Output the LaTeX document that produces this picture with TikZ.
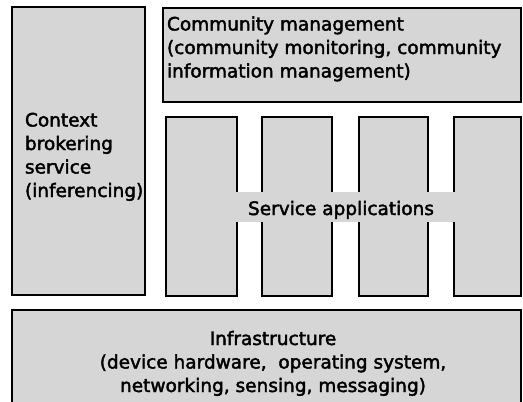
\documentclass[tikz,border=0pt]{standalone}
\usepackage{fontspec}
\setmainfont{DejaVu Sans}
\newfontfamily\labelfont{DejaVu Sans}[FakeBold=2.2]
\definecolor{panelgray}{gray}{0.84}
\begin{document}
\begin{tikzpicture}[x=1pt,y=-1pt,
  panel/.style={draw=black, line width=1.6pt, fill=panelgray,
    inner sep=0pt, outer sep=0pt, anchor=north west},
  band/.style={fill=panelgray, inner sep=0pt, outer sep=0pt, anchor=north west},
  lbl/.style={inner sep=0pt, outer sep=0pt, text=black,
    font=\labelfont\fontsize{18.5}{23.5}\selectfont}]
\clip (0,0) rectangle (523,402);
\fill[white] (0,0) rectangle (523,402);

% side panel
\node[panel, minimum width=133pt, minimum height=288pt] (ctx) at (12,7) {};
% top panel
\node[panel, minimum width=358pt, minimum height=94pt] (comm) at (163,8) {};
% application columns
\node[panel, minimum width=71pt, minimum height=179pt] (colA) at (166,117) {};
\node[panel, minimum width=70pt, minimum height=179pt] (colB) at (262,117) {};
\node[panel, minimum width=69pt, minimum height=179pt] (colC) at (359,117) {};
\node[panel, minimum width=67pt, minimum height=179pt] (colD) at (454,117) {};
% bottom panel
\node[panel, minimum width=509pt, minimum height=95pt] (infra) at (12,310) {};

% shaded strip behind the application label
\node[band, minimum width=226pt, minimum height=30pt] (svcband) at (232,192) {};

% labels (multi-line nodes are anchored on the baseline of their last line)
\node[lbl, anchor=base west, align=left] (ctxtext) at (25,197)
  {Context\\brokering\\service\\(inferencing)};
\node[lbl, anchor=base west, align=left] (commtext) at (167,77.5)
  {Community management\\(community monitoring, community\\information management)};
\node[lbl, anchor=base] (svctext) at (341,215) {Service applications};
\node[lbl, anchor=base, align=center] (infratext) at (273,392)
  {Infrastructure\\(device hardware,\ \ operating system,\\networking, sensing, messaging)};
\end{tikzpicture}
\end{document}
